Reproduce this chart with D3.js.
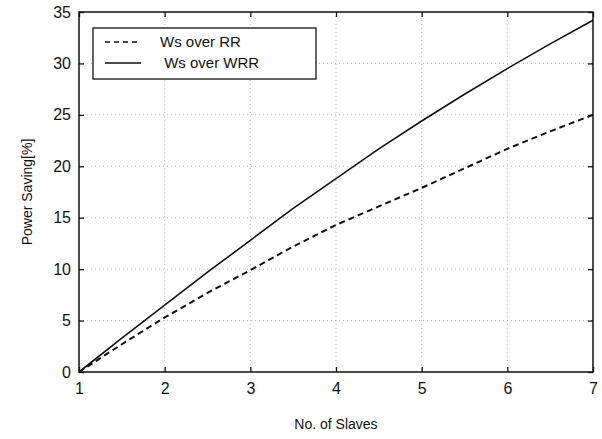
<!DOCTYPE html>
<html>
<head>
<meta charset="utf-8">
<script src="https://cdn.jsdelivr.net/npm/d3@7"></script>
<style>
  body { margin: 0; background: #fff; }
  text { font-family: "Liberation Sans", Arial, sans-serif; fill: #111; }
</style>
</head>
<body>
<script>
// data
let slaves = [1, 1.5, 2, 2.5, 3, 3.5, 4, 4.5, 5, 5.5, 6, 6.5, 7];
let wsOverRR = [0, 2.7, 5.3, 7.7, 9.9, 12.2, 14.3, 16.1, 17.9, 19.8, 21.7, 23.4, 25.0];
let wsOverWRR = [0, 3.3, 6.5, 9.7, 12.8, 15.9, 18.8, 21.7, 24.4, 27.0, 29.5, 31.9, 34.2];
let xTicks = [1, 2, 3, 4, 5, 6, 7];
let yTicks = [0, 5, 10, 15, 20, 25, 30, 35];
let legendNames = ['Ws over RR', ' Ws over WRR'];

let width = 602, height = 439;
let margin = { top: 12, bottom: 67, left: 79, right: 9 };

let svg = d3.select('body')
  .append('svg')
  .attr('width', width)
  .attr('height', height);

let xScale = d3.scaleLinear()
  .domain([1, 7])
  .range([margin.left, width - margin.right]);

let yScale = d3.scaleLinear()
  .domain([0, 35])
  .range([height - margin.bottom, margin.top]);

// grid
let grid = svg.append('g')
  .attr('stroke', '#aaa')
  .attr('stroke-width', 0.8)
  .attr('stroke-dasharray', '1,3');

grid.selectAll('.gx')
  .data(xTicks.slice(1, -1))
  .enter()
  .append('line')
  .attr('x1', d => xScale(d))
  .attr('x2', d => xScale(d))
  .attr('y1', margin.top)
  .attr('y2', height - margin.bottom);

grid.selectAll('.gy')
  .data(yTicks.slice(1, -1))
  .enter()
  .append('line')
  .attr('y1', d => yScale(d))
  .attr('y2', d => yScale(d))
  .attr('x1', margin.left)
  .attr('x2', width - margin.right);

// axes with inward ticks on all sides
function styleAxis(g) {
  g.select('.domain').remove();
  g.selectAll('line').attr('stroke', '#111').attr('stroke-width', 1.3);
  g.selectAll('text').style('font-size', '16px').style('font-family', '"Liberation Sans", Arial, sans-serif');
}

svg.append('g')
  .attr('transform', `translate(0,${height - margin.bottom})`)
  .call(d3.axisBottom(xScale).tickValues(xTicks).tickSizeInner(-5).tickSizeOuter(0).tickPadding(11).tickFormat(d3.format('d')))
  .call(styleAxis);

svg.append('g')
  .attr('transform', `translate(0,${margin.top})`)
  .call(d3.axisTop(xScale).tickValues(xTicks).tickSizeInner(-5).tickSizeOuter(0).tickFormat(''))
  .call(styleAxis);

svg.append('g')
  .attr('transform', `translate(${margin.left},0)`)
  .call(d3.axisLeft(yScale).tickValues(yTicks).tickSizeInner(-5).tickSizeOuter(0).tickPadding(8).tickFormat(d3.format('d')))
  .call(styleAxis);

svg.append('g')
  .attr('transform', `translate(${width - margin.right},0)`)
  .call(d3.axisRight(yScale).tickValues(yTicks).tickSizeInner(-5).tickSizeOuter(0).tickFormat(''))
  .call(styleAxis);

// frame
svg.append('rect')
  .attr('x', margin.left)
  .attr('y', margin.top)
  .attr('width', width - margin.left - margin.right)
  .attr('height', height - margin.top - margin.bottom)
  .attr('fill', 'none')
  .attr('stroke', '#111')
  .attr('stroke-width', 1.5);

// lines
let line = d3.line()
  .x((d, i) => xScale(slaves[i]))
  .y(d => yScale(d));

svg.append('path')
  .datum(wsOverRR)
  .attr('d', line)
  .attr('fill', 'none')
  .attr('stroke', '#111')
  .attr('stroke-width', 2)
  .attr('stroke-dasharray', '6,4');

svg.append('path')
  .datum(wsOverWRR)
  .attr('d', line)
  .attr('fill', 'none')
  .attr('stroke', '#111')
  .attr('stroke-width', 1.6);

// legend
let legend = svg.append('g');
legend.append('rect')
  .attr('x', 93)
  .attr('y', 28)
  .attr('width', 223)
  .attr('height', 51)
  .attr('fill', '#fff')
  .attr('stroke', '#111')
  .attr('stroke-width', 1.3);

let dashes = ['5,4', null];
legendNames.forEach((name, i) => {
  let y = 42 + i * 21;
  legend.append('line')
    .attr('x1', 105).attr('x2', 141)
    .attr('y1', y).attr('y2', y)
    .attr('stroke', '#111')
    .attr('stroke-width', 1.6)
    .attr('stroke-dasharray', dashes[i]);
  legend.append('text')
    .attr('x', 160)
    .attr('y', y)
    .attr('dy', '0.35em')
    .style('font-size', '15px')
    .style('white-space', 'pre')
    .attr('xml:space', 'preserve')
    .text(name);
});

// axis labels
svg.append('text')
  .attr('x', (margin.left + width - margin.right) / 2)
  .attr('y', 429)
  .attr('text-anchor', 'middle')
  .style('font-size', '14px')
  .text('No. of Slaves');

svg.append('text')
  .attr('transform', `translate(32,${(margin.top + height - margin.bottom) / 2}) rotate(-90)`)
  .attr('text-anchor', 'middle')
  .style('font-size', '14px')
  .text('Power Saving[%]');
</script>
</body>
</html>
